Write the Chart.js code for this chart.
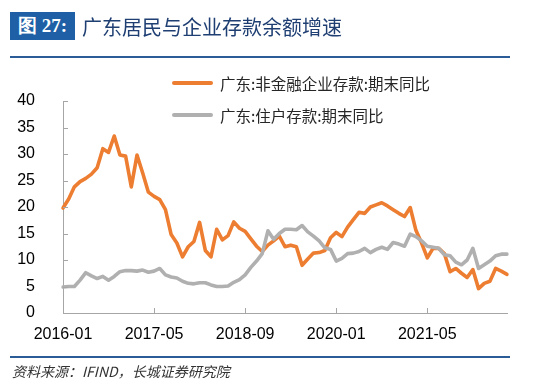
<!DOCTYPE html>
<html>
<head>
<meta charset="utf-8">
<script src="https://cdn.jsdelivr.net/npm/chart.js@4.4.1/dist/chart.umd.min.js"></script>
<style>
html,body{margin:0;padding:0;background:#fff;}
#wrap{position:relative;width:550px;height:388px;overflow:hidden;background:#fff;}
#c{position:absolute;left:0;top:0;}
.tbox{position:absolute;left:10px;top:12px;width:65px;height:28px;background:#1E5FA6;color:#fff;font:bold 19px "Liberation Serif","DejaVu Serif",serif;line-height:28px;text-align:center;}
.ttl{position:absolute;left:82px;top:12px;height:28px;line-height:28px;color:#1F3F73;font:20px "Noto Sans CJK SC",sans-serif;letter-spacing:0px;}
.hl{position:absolute;left:10px;width:500px;height:2px;background:#2C5C97;}
.leg{position:absolute;left:172px;height:20px;}
.leg .sw{position:absolute;left:0;top:8px;width:41px;height:4px;border-radius:2px;}
.leg .tx{position:absolute;left:48px;top:0;white-space:nowrap;font:15.5px "Noto Sans CJK SC",sans-serif;line-height:20px;color:#262626;}
.src{position:absolute;left:12px;top:361px;font:italic 14px "Noto Sans CJK SC",sans-serif;color:#333;white-space:nowrap;}
</style>
</head>
<body>
<div id="wrap">
<canvas id="c" width="550" height="388"></canvas>
<div class="tbox">图 27:</div>
<div class="ttl">广东居民与企业存款余额增速</div>
<div class="hl" style="top:56px"></div>
<div class="leg" style="top:73px"><div class="sw" style="background:#ED7D31"></div><div class="tx">广东:非金融企业存款:期末同比</div></div>
<div class="leg" style="top:105px"><div class="sw" style="background:#B0B0B0"></div><div class="tx">广东:住户存款:期末同比</div></div>
<div class="hl" style="top:356px"></div>
<div class="src">资料来源：IFIND，长城证券研究院</div>
</div>
<script>
// Months 2016-01 .. 2022-07
const startYear = 2016, startMonth = 1, monthCount = 79;
const months = [];
for (let k = 0; k < monthCount; k++) {
  const y = startYear + Math.floor((startMonth - 1 + k) / 12);
  const m = (startMonth - 1 + k) % 12 + 1;
  months.push(y + '-' + (m < 10 ? '0' + m : m));
}
const shownLabels = ['2016-01', '2017-05', '2018-09', '2020-01', '2021-05'];
const yTicks = [0, 5, 10, 15, 20, 25, 30, 35, 40];

const seriesNames = ['广东:非金融企业存款:期末同比', '广东:住户存款:期末同比'];

const corpDeposits = [
  19.8, 21.5, 23.8, 24.8, 25.4, 26.2, 27.4, 31.0, 30.3, 33.4,
  29.8, 29.6, 23.8, 29.8, 26.4, 22.8, 22.0, 21.4, 19.5, 14.8,
  13.2, 10.6, 12.5, 13.5, 17.1, 11.8, 10.6, 15.8, 13.8, 14.6,
  17.2, 16.0, 15.4, 14.0, 12.6, 11.6, 12.8, 13.6, 14.5, 12.5,
  12.8, 12.5, 9.0, 10.2, 11.3, 11.4, 11.8, 14.2, 15.2, 14.4,
  16.2, 17.6, 19.0, 18.8, 20.0, 20.4, 20.8, 20.2, 19.5, 18.8,
  18.2, 19.9, 15.6, 13.2, 10.4, 12.2, 12.2, 11.2, 7.8, 8.4,
  7.5, 6.7, 8.2, 4.6, 5.6, 6.0, 8.4, 7.9, 7.3
];
const householdDeposits = [
  4.9, 5.0, 5.0, 6.2, 7.6, 7.0, 6.5, 6.9, 6.2, 6.9,
  7.8, 8.0, 8.0, 7.9, 8.1, 7.7, 7.9, 8.4, 7.2, 6.8,
  6.6, 6.0, 5.6, 5.5, 5.7, 5.7, 5.3, 5.0, 5.0, 5.1,
  5.8, 6.3, 7.2, 8.6, 9.8, 11.2, 15.5, 13.9, 15.0, 15.8,
  15.8, 15.7, 16.5, 15.3, 14.5, 13.6, 12.3, 12.0, 9.8, 10.3,
  11.2, 11.3, 11.6, 12.2, 11.4, 12.0, 12.4, 12.0, 13.3, 13.0,
  12.6, 14.9, 14.4, 13.6, 12.6, 12.4, 12.2, 11.0, 10.8, 9.6,
  9.1, 10.0, 12.2, 8.4, 9.1, 9.8, 10.8, 11.1, 11.1
];

const axisColor = '#A6A6A6';

const innerTicks = {
  id: 'innerTicks',
  afterDatasetsDraw(chart) {
    const ctx = chart.ctx, xs = chart.scales.x, ys = chart.scales.y;
    ctx.save();
    ctx.strokeStyle = axisColor;
    ctx.lineWidth = 1;
    ctx.beginPath();
    yTicks.forEach(v => {
      const py = Math.round(ys.getPixelForValue(v)) + 0.5;
      ctx.moveTo(xs.left, py); ctx.lineTo(xs.left + 5, py);
    });
    shownLabels.forEach((lab, k) => {
      if (k === 0) return;
      const px = Math.round(xs.getPixelForValue(months.indexOf(lab))) + 0.5;
      ctx.moveTo(px, ys.bottom); ctx.lineTo(px, ys.bottom - 5);
    });
    ctx.stroke();
    ctx.restore();
  }
};

new Chart(document.getElementById('c'), {
  type: 'line',
  data: {
    labels: months,
    datasets: [
      { label: seriesNames[0], data: corpDeposits, borderColor: '#ED7D31', borderWidth: 3.6, pointRadius: 0, tension: 0, fill: false, borderJoinStyle: 'round', borderCapStyle: 'round', order: 1 },
      { label: seriesNames[1], data: householdDeposits, borderColor: '#B0B0B0', borderWidth: 3.6, pointRadius: 0, tension: 0, fill: false, borderJoinStyle: 'round', borderCapStyle: 'round', order: 0 }
    ]
  },
  options: {
    responsive: false,
    animation: false,
    devicePixelRatio: 1,
    layout: { padding: { left: 0, right: 43, top: 101, bottom: 45 } },
    plugins: { legend: { display: false }, tooltip: { enabled: false }, title: { display: false } },
    scales: {
      x: {
        type: 'category',
        offset: false,
        grid: { display: false },
        border: { display: true, color: axisColor, width: 1 },
        ticks: {
          autoSkip: false, maxRotation: 0, padding: 4,
          color: '#000', font: { family: 'Liberation Sans, Arial, sans-serif', size: 16 },
          callback: function (v, i) { const l = months[i]; return shownLabels.includes(l) ? l : ''; }
        },
        afterFit: s => { s.height = 30; }
      },
      y: {
        min: 0, max: 40,
        grid: { display: false },
        border: { display: true, color: axisColor, width: 1 },
        afterBuildTicks: s => { s.ticks = yTicks.map(v => ({ value: v })); },
        ticks: { padding: 20, color: '#000', font: { family: 'Liberation Sans, Arial, sans-serif', size: 16 } },
        afterFit: s => { s.width = 63; }
      }
    }
  },
  plugins: [innerTicks]
});
</script>
</body>
</html>
